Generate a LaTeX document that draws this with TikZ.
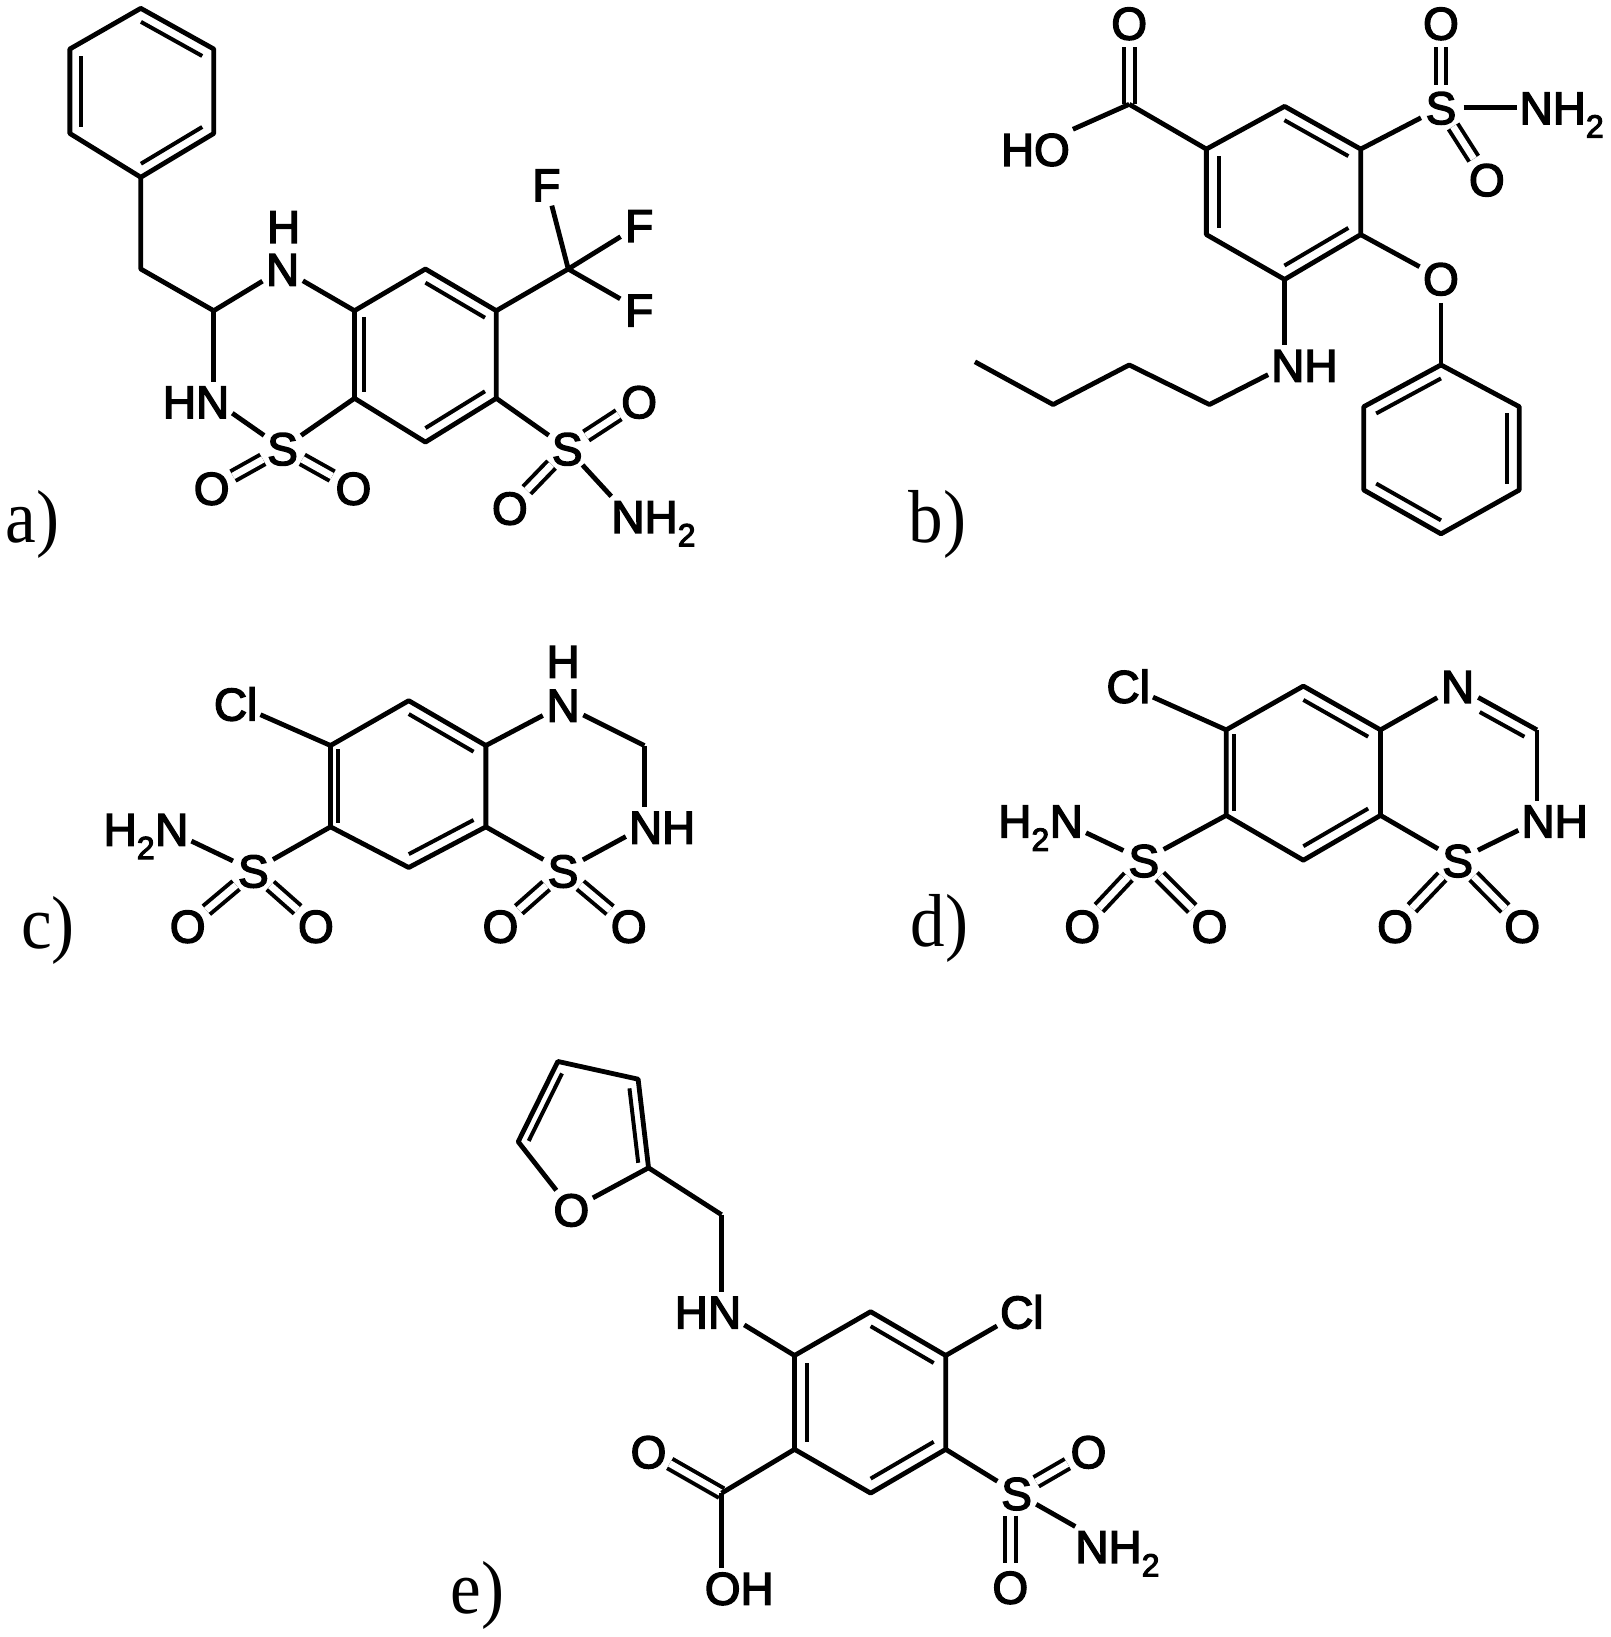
\documentclass[tikz,border=0pt]{standalone}
\usepackage{fontspec}
\setmainfont{Liberation Sans}[FakeBold=3.2]
\newfontfamily\labelfont{Liberation Serif}
\usetikzlibrary{calc}
\newcommand{\dbinner}[4][.16]{\draw[innerbond] ($(#2)!#1!(#4)$) -- ($(#3)!#1!(#4)$);}
\tikzset{
  bond/.style={line width=4.6pt,line join=round,line cap=butt,black},
  innerbond/.style={line width=3.8pt,line cap=butt,black},
  dbl/.style={double=white,double distance=6.5pt,line width=3.8pt,black},
  atom/.style={circle,inner sep=0pt,outer sep=0pt,text height=32pt,text depth=0pt,font=\fontsize{44}{44}\selectfont},
  grp/.style={rectangle,inner sep=3pt,outer sep=0pt,text height=32pt,text depth=0pt,font=\fontsize{44}{44}\selectfont},
  panel/.style={inner sep=0pt,transform shape,xscale=.92,font=\labelfont\fontsize{72}{72}\selectfont},
}
\begin{document}
\begin{tikzpicture}[x=1pt,y=-1pt]
\useasboundingbox (0,0) rectangle (1545,1570);
% ---------- a ----------
\coordinate (aP1) at (135,8); \coordinate (aP2) at (205,47); \coordinate (aP3) at (205,128);
\coordinate (aP4) at (135,170); \coordinate (aP5) at (67,128); \coordinate (aP6) at (67,47);
\coordinate (aPc) at (136,89);
\coordinate (aCH2) at (135,258); \coordinate (aCH) at (205,298);
\coordinate (aR1) at (340,298); \coordinate (aR2) at (408,258); \coordinate (aR3) at (476,298);
\coordinate (aR4) at (476,382); \coordinate (aR5) at (408,424); \coordinate (aR6) at (340,382);
\coordinate (aRc) at (408,340); \coordinate (aCF) at (545,258);
\node[atom] (aN) at (271,258) {N};
\node[grp,inner sep=0pt] (aH) at (272,217) {H};
\node[grp] (aHN) at (188,385) {HN};
\node[atom] (aS) at (271,430) {S};
\node[atom] (aO1) at (203,468) {O};
\node[atom] (aO2) at (339,468) {O};
\node[atom] (aF1) at (524,177) {F};
\node[atom] (aF2) at (613,216) {F};
\node[atom] (aF3) at (613,297) {F};
\node[atom] (aS2) at (544,430) {S};
\node[atom] (aO3) at (613,385) {O};
\node[atom] (aO4) at (489,487) {O};
\node[grp] (aNH2) at (627,495) {NH\textsubscript{2}};
\node[panel] (la) at (31,503) {a)};
\draw[bond] (aP1)--(aP2)--(aP3)--(aP4)--(aP5)--(aP6)--cycle;
\dbinner{aP1}{aP2}{aPc} \dbinner{aP5}{aP6}{aPc} \dbinner{aP3}{aP4}{aPc}
\draw[bond] (aP4)--(aCH2)--(aCH);
\draw[bond] (aCH)--(aN); \draw[bond] (aN)--(aR1);
\draw[bond] (aCH)--(aHN.north -| aCH);
\draw[bond] (aHN.-18)--(aS); \draw[bond] (aS)--(aR6);
\draw[bond] (aR1)--(aR2)--(aR3)--(aR4)--(aR5)--(aR6)--cycle;
\dbinner{aR2}{aR3}{aRc} \dbinner[.14]{aR1}{aR6}{aRc} \dbinner{aR4}{aR5}{aRc}
\draw[bond] (aR3)--(aCF);
\draw[bond] (aCF)--(aF1); \draw[bond] (aCF)--(aF2); \draw[bond] (aCF)--(aF3);
\draw[bond] (aR4)--(aS2);
\draw[dbl] (aS)--(aO1); \draw[dbl] (aS)--(aO2);
\draw[dbl] (aS2)--(aO3); \draw[dbl] (aS2)--(aO4);
\draw[bond] (aS2)--(aNH2.155);
% ---------- b ----------
\coordinate (bR1) at (1232,102); \coordinate (bR2) at (1305,143); \coordinate (bR3) at (1305,225);
\coordinate (bR4) at (1232,268); \coordinate (bR5) at (1157,225); \coordinate (bR6) at (1157,143);
\coordinate (bRc) at (1231,185); \coordinate (bC) at (1083,100);
\coordinate (bP1) at (1382,350); \coordinate (bP2) at (1457,390); \coordinate (bP3) at (1457,470);
\coordinate (bP4) at (1382,512); \coordinate (bP5) at (1308,470); \coordinate (bP6) at (1308,390);
\coordinate (bPc) at (1382,431);
\coordinate (bC1) at (1160,388); \coordinate (bC2) at (1083,350);
\coordinate (bC3) at (1010,388); \coordinate (bC4) at (935,347);
\node[atom] (bO1) at (1083,22) {O};
\node[grp] (bHO) at (993,143) {HO};
\node[atom] (bS) at (1382,103) {S};
\node[atom] (bO2) at (1382,22) {O};
\node[atom] (bO3) at (1426,172) {O};
\node[grp] (bNH2) at (1498,103) {NH\textsubscript{2}};
\node[atom] (bO4) at (1382,267) {O};
\node[grp] (bNH) at (1251,350) {NH};
\node[panel] (lb) at (899,503) {b)};
\draw[bond] (bR1)--(bR2)--(bR3)--(bR4)--(bR5)--(bR6)--cycle;
\dbinner{bR1}{bR2}{bRc} \dbinner{bR5}{bR6}{bRc} \dbinner{bR3}{bR4}{bRc}
\draw[dbl] (bC)--(bO1);
\draw[bond] (bR6)--(bC); \draw[bond] (bC)--(bHO.north east);
\draw[bond] (bR2)--(bS);
\draw[dbl] (bS)--(bO2); \draw[dbl] (bS)--(bO3);
\draw[bond] (bS)--(bNH2.west);
\draw[bond] (bR3)--(bO4); \draw[bond] (bO4)--(bP1);
\draw[bond] (bP1)--(bP2)--(bP3)--(bP4)--(bP5)--(bP6)--cycle;
\dbinner{bP1}{bP6}{bPc} \dbinner{bP2}{bP3}{bPc} \dbinner{bP4}{bP5}{bPc}
\draw[bond] (bR4)--(bNH.north -| bR4);
\draw[bond] (bNH.195)--(bC1)--(bC2)--(bC3)--(bC4);
% ---------- c ----------
\coordinate (cR1) at (392,672); \coordinate (cR2) at (466,715); \coordinate (cR3) at (466,793);
\coordinate (cR4) at (392,832); \coordinate (cR5) at (317,793); \coordinate (cR6) at (317,715);
\coordinate (cRc) at (392,752); \coordinate (cCH2) at (618,715);
\node[grp] (cCl) at (226,675) {Cl};
\node[grp,inner sep=0pt] (cN) at (540,676) {N};
\node[grp,inner sep=0pt] (cH) at (540,634) {H};
\node[grp] (cNH) at (635,793) {NH};
\node[atom] (cS1) at (540,835) {S};
\node[atom] (cO1) at (480,888) {O};
\node[atom] (cO2) at (603,888) {O};
\node[atom] (cS2) at (243,835) {S};
\node[atom] (cO3) at (180,888) {O};
\node[atom] (cO4) at (303,888) {O};
\node[grp] (cH2N) at (140,795) {H\textsubscript{2}N};
\node[panel] (lc) at (46,892) {c)};
\draw[bond] (cR1)--(cR2)--(cR3)--(cR4)--(cR5)--(cR6)--cycle;
\dbinner{cR1}{cR2}{cRc} \dbinner[.10]{cR5}{cR6}{cRc} \dbinner{cR3}{cR4}{cRc}
\draw[bond] (cR6)--(cCl);
\draw[bond,shorten >=4pt] (cR2)--(cN); \draw[bond,shorten <=4pt] (cN)--(cCH2);
\draw[bond] (cCH2)--(cNH.north -| cCH2);
\draw[bond] (cNH.195)--(cS1); \draw[bond] (cS1)--(cR3);
\draw[bond] (cR5)--(cS2); \draw[bond] (cS2)--(cH2N.-15);
\draw[dbl] (cS1)--(cO1); \draw[dbl] (cS1)--(cO2);
\draw[dbl] (cS2)--(cO3); \draw[dbl] (cS2)--(cO4);
% ---------- d ----------
\coordinate (dR1) at (1250,658); \coordinate (dR2) at (1324,700); \coordinate (dR3) at (1324,782);
\coordinate (dR4) at (1250,825); \coordinate (dR5) at (1176,782); \coordinate (dR6) at (1176,700);
\coordinate (dRc) at (1250,741); \coordinate (dCH) at (1474,700); \coordinate (dTc) at (1399,741);
\node[grp] (dCl) at (1082,658) {Cl};
\node[atom] (dN) at (1398,658) {N};
\node[grp] (dNH) at (1491,787) {NH};
\node[atom] (dS1) at (1398,825) {S};
\node[atom] (dO1) at (1338,888) {O};
\node[atom] (dO2) at (1460,888) {O};
\node[atom] (dS2) at (1097,825) {S};
\node[atom] (dO3) at (1038,888) {O};
\node[atom] (dO4) at (1160,888) {O};
\node[grp] (dH2N) at (998,787) {H\textsubscript{2}N};
\node[panel] (ld) at (901,890) {d)};
\draw[bond] (dR1)--(dR2)--(dR3)--(dR4)--(dR5)--(dR6)--cycle;
\dbinner{dR1}{dR2}{dRc} \dbinner[.10]{dR5}{dR6}{dRc} \dbinner{dR3}{dR4}{dRc}
\draw[bond] (dR6)--(dCl);
\draw[bond] (dR2)--(dN); \draw[bond] (dN)--(dCH);
\draw[innerbond,shorten <=24pt] ($(dN)!.16!(dTc)$) -- ($(dCH)!.16!(dTc)$);
\draw[bond] (dCH)--(dNH.north -| dCH);
\draw[bond] (dNH.195)--(dS1); \draw[bond] (dS1)--(dR3);
\draw[bond] (dR5)--(dS2); \draw[bond] (dS2)--(dH2N.-15);
\draw[dbl] (dS1)--(dO1); \draw[dbl] (dS1)--(dO2);
\draw[dbl] (dS2)--(dO3); \draw[dbl] (dS2)--(dO4);
% ---------- e ----------
\coordinate (eF2) at (622,1120); \coordinate (eF3) at (612,1035);
\coordinate (eF4) at (535,1018); \coordinate (eF5) at (497,1095); \coordinate (eFc) at (560,1090);
\coordinate (eCH2) at (692,1165);
\coordinate (eR1) at (835,1258); \coordinate (eR2) at (907,1300); \coordinate (eR3) at (907,1390);
\coordinate (eR4) at (835,1432); \coordinate (eR5) at (762,1390); \coordinate (eR6) at (762,1300);
\coordinate (eRc) at (835,1345); \coordinate (eC) at (692,1432);
\node[atom] (eO) at (548,1160) {O};
\node[grp] (eHN) at (679,1258) {HN};
\node[grp] (eCl) at (980,1258) {Cl};
\node[atom] (eO1) at (622,1392) {O};
\node[grp] (eOH) at (709,1523) {OH};
\node[atom] (eS) at (975,1432) {S};
\node[atom] (eO2) at (1044,1392) {O};
\node[atom] (eO3) at (969,1522) {O};
\node[grp] (eNH2) at (1072,1483) {NH\textsubscript{2}};
\node[panel] (le) at (458,1530) {e)};
\draw[bond] (eO)--(eF2)--(eF3)--(eF4)--(eF5)--(eO);
\dbinner{eF2}{eF3}{eFc} \dbinner{eF4}{eF5}{eFc}
\draw[bond] (eF2)--(eCH2);
\draw[bond] (eCH2)--(eHN.north -| eCH2);
\draw[bond] (eHN.-20)--(eR6);
\draw[bond] (eR1)--(eR2)--(eR3)--(eR4)--(eR5)--(eR6)--cycle;
\dbinner{eR1}{eR2}{eRc} \dbinner{eR5}{eR6}{eRc} \dbinner{eR3}{eR4}{eRc}
\draw[bond] (eR2)--(eCl);
\draw[dbl] (eC)--(eO1);
\draw[bond] (eR5)--(eC);
\draw[bond] (eC)--(eOH.north -| eC);
\draw[bond] (eR3)--(eS);
\draw[dbl] (eS.south -| eO3)--(eO3); \draw[dbl] (eS)--(eO2);
\draw[bond] (eS)--(eNH2.155);
\end{tikzpicture}
\end{document}
